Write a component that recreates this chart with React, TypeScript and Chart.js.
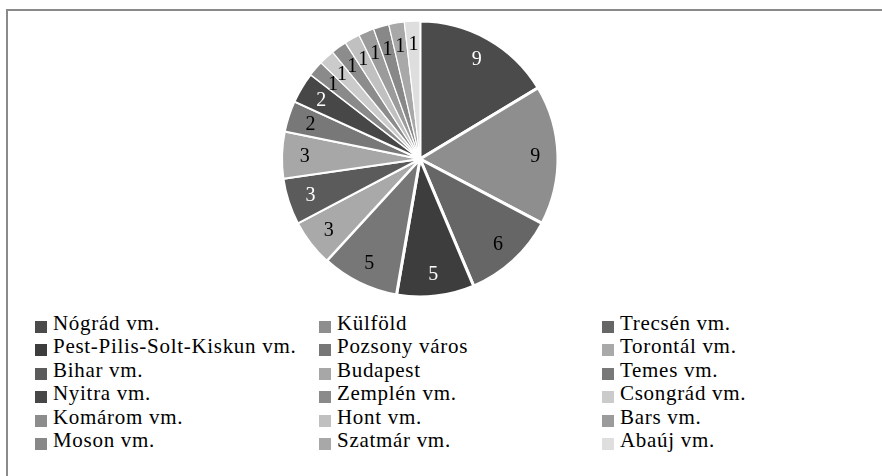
import React, { useEffect, useRef } from "react";
import { Chart, registerables } from "chart.js";

Chart.register(...registerables);

const categories = [
  "Nógrád vm.",
  "Külföld",
  "Trecsén vm.",
  "Pest-Pilis-Solt-Kiskun vm.",
  "Pozsony város",
  "Torontál vm.",
  "Bihar vm.",
  "Budapest",
  "Temes vm.",
  "Nyitra vm.",
  "Zemplén vm.",
  "Csongrád vm.",
  "Komárom vm.",
  "Hont vm.",
  "Bars vm.",
  "Moson vm.",
  "Szatmár vm.",
  "Abaúj vm.",
];

const values = [9, 9, 6, 5, 5, 3, 3, 3, 2, 2, 1, 1, 1, 1, 1, 1, 1, 1];

const sliceColors = [
  "#4b4b4b", "#8e8e8e", "#666666", "#3d3d3d", "#777777", "#a9a9a9",
  "#5b5b5b", "#a7a7a7", "#787878", "#474747", "#8a8a8a", "#cbcbcb",
  "#8c8c8c", "#c0c0c0", "#9b9b9b", "#888888", "#a8a8a8", "#dedede",
];

const labelColors = [
  "#ffffff", "#000000", "#000000", "#ffffff", "#000000", "#000000",
  "#ffffff", "#000000", "#000000", "#ffffff", "#000000", "#000000",
  "#000000", "#000000", "#000000", "#000000", "#000000", "#000000",
];

const borderWidths = [3, 3, 3, 3, 3, 2, 2, 2, 2, 2, 1.2, 1.2, 1.2, 1.2, 1.2, 1.2, 1.2, 1.2];

const SERIF = '"Liberation Serif", "Times New Roman", serif';

const sliceLabels = {
  id: "sliceLabels",
  afterDatasetsDraw(chart: any) {
    const ctx = chart.ctx;
    const meta = chart.getDatasetMeta(0);
    ctx.save();
    ctx.font = `20px ${SERIF}`;
    ctx.textAlign = "center";
    ctx.textBaseline = "middle";
    meta.data.forEach((arc: any, i: number) => {
      const p = arc.getProps(["x", "y", "startAngle", "endAngle", "outerRadius"], true);
      const mid = (p.startAngle + p.endAngle) / 2;
      const r = p.outerRadius * 0.835;
      ctx.fillStyle = labelColors[i];
      ctx.fillText(String(values[i]), p.x + Math.cos(mid) * r, p.y + Math.sin(mid) * r + 1);
    });
    ctx.restore();
  },
};

export default function App() {
  const ref = useRef<HTMLCanvasElement | null>(null);

  useEffect(() => {
    if (!ref.current) return;
    const chart = new Chart(ref.current, {
      type: "pie",
      data: {
        labels: categories,
        datasets: [
          {
            data: values,
            backgroundColor: sliceColors,
            borderColor: "#ffffff",
            borderWidth: borderWidths,
          },
        ],
      },
      options: {
        responsive: false,
        animation: false,
        devicePixelRatio: 1,
        layout: { padding: 10.5 },
        plugins: {
          legend: { display: false },
          tooltip: { enabled: false },
        },
      },
      plugins: [sliceLabels],
    });
    return () => chart.destroy();
  }, []);

  const colX = [35, 319, 602];
  const rowTop = 312;
  const rowH = 23.4;

  return (
    <div
      style={{
        position: "fixed",
        left: 0,
        top: 0,
        width: 882,
        height: 476,
        background: "#ffffff",
        overflow: "hidden",
      }}
    >
      <div
        style={{
          position: "absolute",
          left: 6,
          top: 9,
          width: 900,
          height: 500,
          borderLeft: "2px solid #8a8a8a",
          borderTop: "2px solid #8a8a8a",
          boxSizing: "border-box",
        }}
      />
      <canvas
        ref={ref}
        width={300}
        height={300}
        style={{ position: "absolute", left: 270, top: 9, width: 300, height: 300 }}
      />
      {categories.map((name, i) => {
        const col = i % 3;
        const row = Math.floor(i / 3);
        return (
          <div
            key={name}
            style={{
              position: "absolute",
              left: colX[col],
              top: rowTop + row * rowH,
              height: rowH,
              width: 280,
            }}
          >
            <div
              style={{
                position: "absolute",
                left: 0,
                top: 9,
                width: 12,
                height: 12,
                background: sliceColors[i],
              }}
            />
            <div
              style={{
                position: "absolute",
                left: 18,
                top: 0,
                fontFamily: SERIF,
                fontSize: 21,
                lineHeight: `${rowH}px`,
                letterSpacing: "0.7px",
                color: "#000000",
                whiteSpace: "nowrap",
              }}
            >
              {name}
            </div>
          </div>
        );
      })}
    </div>
  );
}
